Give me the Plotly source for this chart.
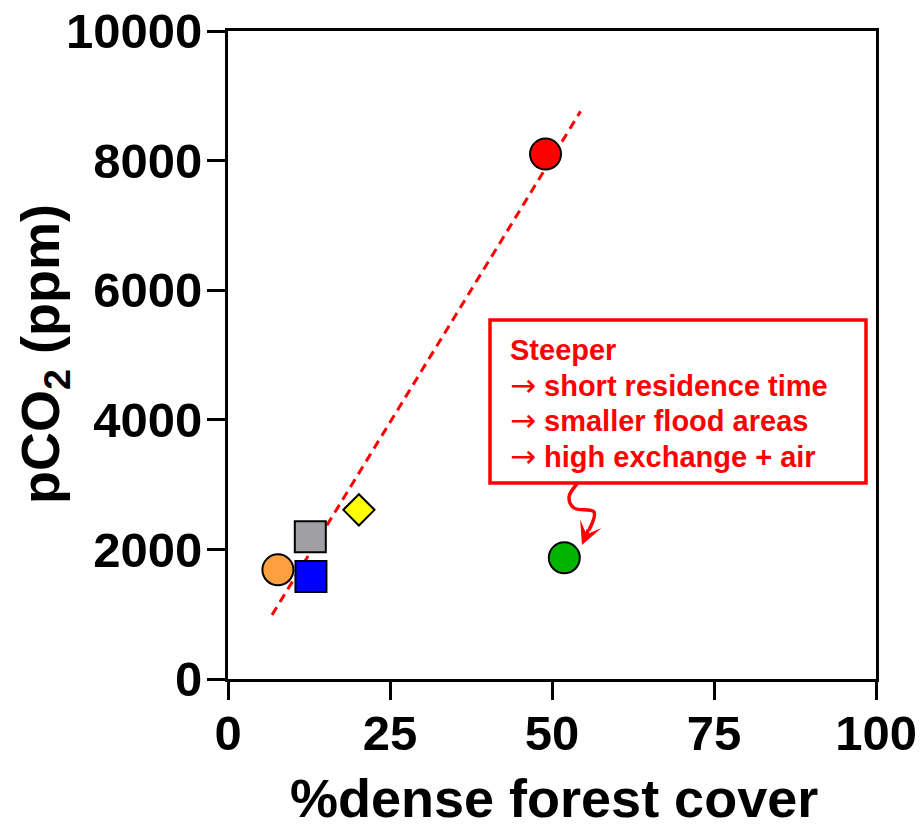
import plotly.graph_objects as go

# Data
site_x = [49.0, 51.9, 20.2, 12.7, 12.8, 7.7]
site_y = [8100, 1870, 2610, 2195, 1580, 1685]
site_symbol = ["circle", "circle", "diamond", "square", "square", "circle"]
site_color = ["#FF0000", "#00B400", "#FFFF00", "#A0A0A4", "#0000FF", "#FFA040"]
site_size = [31, 31, 24, 31, 31, 31]

trend_x = [6.8, 54.4]
trend_y = [990, 8760]

x_ticks = [0, 25, 50, 75, 100]
y_ticks = [0, 2000, 4000, 6000, 8000, 10000]
y_tick_text = ["0", "2000", "4000", "6000", "8000", "10000"]

note_lines = [
    "Steeper",
    "\u2192 short residence time",
    "\u2192 smaller flood areas",
    "\u2192 high exchange + air",
]

FONT = "Liberation Sans, Arial, sans-serif"

# plot area in pixels
L, R, T, B = 228, 876, 31, 679
W, H = 920, 826


def px(xp):
    return (xp - L) / (R - L)


def py(yp):
    return (B - yp) / (B - T)


fig = go.Figure()

fig.add_trace(go.Scatter(
    x=trend_x, y=trend_y, mode="lines",
    line=dict(color="#FF0000", width=3, dash="9px,6px"),
    hoverinfo="skip", showlegend=False,
))

# squiggly arrow (annotation decoration, paper coords)
sq_x = [px(577), px(569), px(574), px(594), px(589)]
sq_y = [py(484), py(497), py(508), py(512), py(530)]
fig.add_trace(go.Scatter(
    x=sq_x, y=sq_y, mode="lines", xaxis="x2", yaxis="y2",
    line=dict(color="#FF0000", width=3.5, shape="spline"),
    hoverinfo="skip", showlegend=False,
))

fig.add_trace(go.Scatter(
    x=site_x, y=site_y, mode="markers",
    marker=dict(symbol=site_symbol, color=site_color, size=site_size,
                opacity=1, line=dict(color="black", width=2)),
    showlegend=False,
))

fig.add_annotation(
    x=px(582), y=py(545), ax=7, ay=-17, xref="paper", yref="paper",
    text="", showarrow=True, arrowhead=3, arrowsize=1.1, arrowwidth=3.5,
    arrowcolor="#FF0000",
)

# note box
fig.add_shape(type="rect", xref="paper", yref="paper",
              x0=px(490), x1=px(866), y0=py(483), y1=py(320),
              line=dict(color="#FF0000", width=3.5), fillcolor="rgba(0,0,0,0)")

line_centers = [350, 385, 420, 456]
for txt, yc in zip(note_lines, line_centers):
    if txt.startswith("\u2192"):
        txt = ('<span style="font-family:DejaVu Sans;font-weight:normal;font-size:31px">'
               '\u2192</span>' + txt[1:])
    fig.add_annotation(
        x=px(508), y=py(yc), xref="paper", yref="paper",
        xanchor="left", yanchor="middle", align="left", text=txt,
        font=dict(family=FONT, size=29, color="#FF0000", weight="bold"),
        showarrow=False,
    )

# axis titles
title_font = dict(family=FONT, size=54, color="black", weight="bold")
fig.add_annotation(x=px(554), y=py(798), xref="paper", yref="paper",
                   xanchor="center", yanchor="middle", showarrow=False,
                   text="%dense forest cover", font=title_font)
fig.add_annotation(x=px(44), y=py(354), xref="paper", yref="paper",
                   xanchor="center", yanchor="middle", showarrow=False,
                   textangle=-90, text="pCO<sub>2</sub> (ppm)", font=title_font)

axis_common = dict(
    showline=True, linecolor="black", linewidth=3, mirror=True,
    ticks="outside", ticklen=18, tickwidth=3, tickcolor="black",
    showgrid=False, zeroline=False, automargin=False,
    tickfont=dict(family=FONT, size=49, color="black", weight="bold"),
)

fig.update_layout(
    width=W, height=H,
    margin=dict(l=L, r=W - R, t=T, b=H - B),
    plot_bgcolor="white", paper_bgcolor="white",
    xaxis=dict(range=[0, 100], tickvals=x_ticks, ticklabelstandoff=-9, **axis_common),
    yaxis=dict(range=[0, 10000], tickvals=y_ticks, ticktext=y_tick_text,
               ticklabelstandoff=-5, **axis_common),
    xaxis2=dict(range=[0, 1], overlaying="x", visible=False, fixedrange=True),
    yaxis2=dict(range=[0, 1], overlaying="y", visible=False, fixedrange=True),
)

fig.write_html(
    "out.html",
    config={"displayModeBar": False},
    post_script="document.body.style.margin='0';document.body.style.overflow='hidden';",
)
